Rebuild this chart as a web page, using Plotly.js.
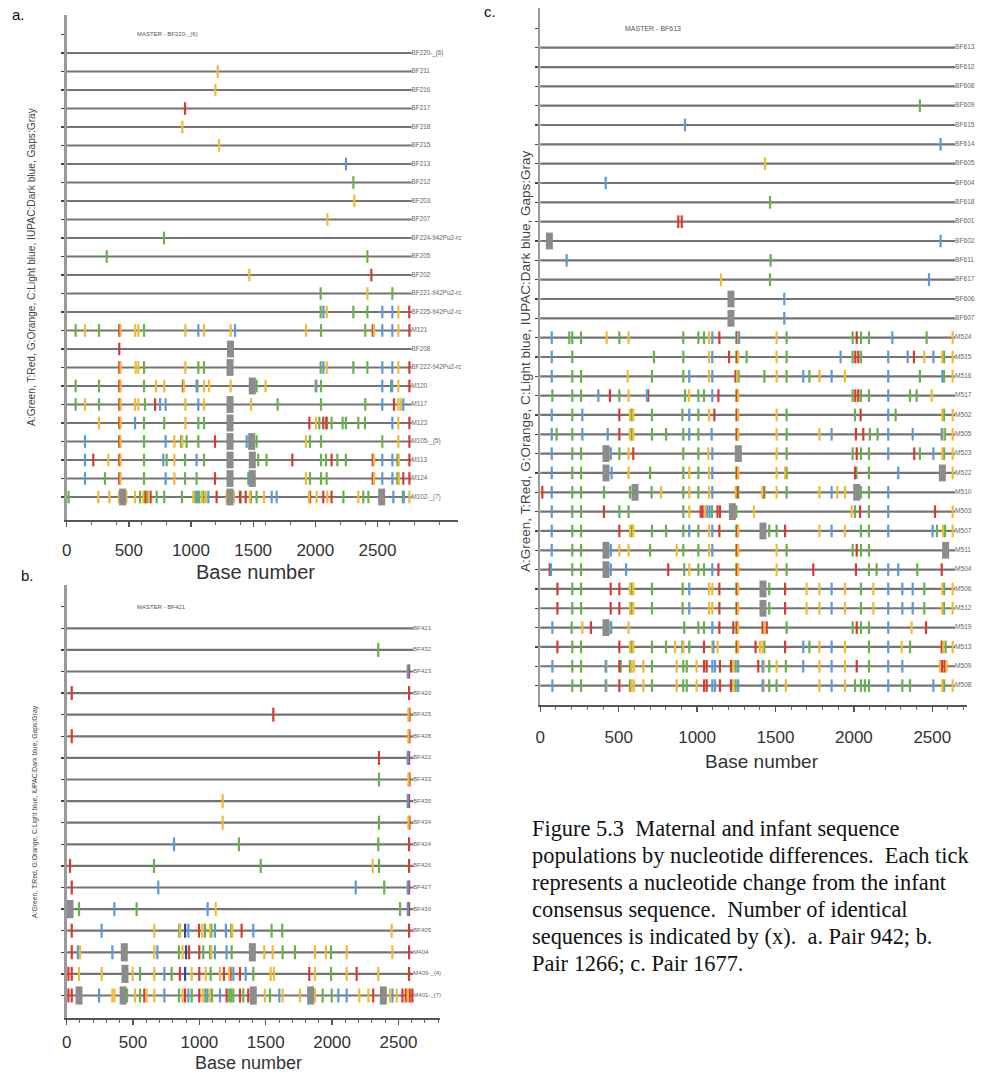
<!DOCTYPE html>
<html><head><meta charset="utf-8">
<script src="https://cdn.plot.ly/plotly-3.0.1.min.js"></script>
<style>html,body{margin:0;padding:0;background:#fff}#chart{width:997px;height:1078px}</style>
</head><body><div id="chart"></div>
<script>
// ---------- DATA ----------
// Mutation codes: A,T,G,C = base change, N = IUPAC ambiguity, X = gap; number = base position
const labelsA = ["BF220-_(6)","BF211","BF216","BF217","BF218","BF215","BF213","BF212","BF203","BF207","BF224-942Pu2-rc","BF205","BF202","BF221-942Pu2-rc","BF225-942Pu2-rc","M121","BF208","BF222-942Pu2-rc","M120","M117","M123","M105-_(5)","M113","M124","M102-_(7)"];
const mutsA = [
 "",
 "G1215",
 "G1196",
 "T952",
 "G930",
 "G1225",
 "C2247",
 "A2306",
 "G2314",
 "G2097",
 "A783",
 "A322 A2419",
 "G1469 T2451",
 "A2043 G2419 A2620",
 "A2043 C2065 G2092 A2306 A2419 C2539 C2620 G2668 T2756",
 "A72 G147 A260 T423 G433 G550 G577 A622 G955 C1059 G1105 G1319 C1354 G1925 A2046 A2402 T2462 G2472 C2539 C2620 G2668 T2757",
 "T423 X1318 A1327",
 "T423 G433 G555 G577 A622 G955 A1059 A1105 X1314 A1322 A2043 C2065 G2092 A2306 A2419 C2539 C2620 G2668 T2757",
 "A72 A260 T423 G433 A622 G718 G785 T935 G942 C1045 A1052 G1105 G1145 G1319 X1493 A1500 A1528 G1600 G2000 C2008 A2046 C2539 A2610 C2618 G2668 T2757",
 "A72 G147 A260 T423 G433 G550 G577 A630 T711 C751 C796 G955 C1059 G1105 X1314 A1322 G1483 A1697 A2046 A2402 C2539 T2633 G2668 G2687 C2708",
 "G260 T423 G433 C550 A622 A785 G955 A1059 A1105 X1314 A1322 T1952 G2005 A2032 T2064 T2088 A2095 A2131 A2220 A2246 A2346 A2400 C2620 G2668 T2757",
 "C147 T423 G433 A622 C796 G866 A920 G930 A965 A1059 T1193 T1305 X1314 A1325 C1448 X1488 A1528 G1925 A1957 A2046 A2539 G2668 T2757",
 "C147 T214 G335 T423 G433 A622 C777 A804 G866 A952 C1045 A1105 X1314 A1322 X1493 A1500 A1541 A1608 T1815 A2046 A2086 T2131 A2177 A2246 T2462 G2472 C2539 C2620 A2660 G2672 T2757",
 "C147 A308 T423 G433 A622 C796 G866 A952 A1045 T1193 T1306 X1314 A1461 C1470 X1493 A1500 G1925 A1957 A2046 A2091 T2462 G2472 C2539 C2620 A2660 G2672 T2708 T2757",
 "A15 G254 G343 G420 A430 T440 X450 A460 T470 G480 G550 A590 G617 T630 A645 G660 T675 A724 A785 A927 G1019 A1035 C1050 A1065 G1085 A1100 G1120 C1140 T1206 G1287 X1314 T1330 G1345 T1394 A1400 T1440 G1474 A1482 A1528 G1587 C1649 C1689 G1950 T1958 G2011 T2064 G2096 T2131 A2226 G2346 A2386 A2427 X2534 C2628 A2704 C2712 G2757"
];
const labelsB = ["BF421","BF432","BF423","BF420","BF425","BF428","BF422","BF433","BF435","BF434","BF424","BF426","BF427","BF430","BF405","M404","M409-_(4)","M401-_(7)"];
const mutsB = [
 "",
 "A2348",
 "C2570 T2580",
 "T38 T2580",
 "T1557 G2575 T2583",
 "T38 G2575 T2583",
 "T2353 C2570 T2580",
 "A2353 G2575 T2583",
 "G1175 C2570 T2580",
 "G1175 A2353 G2575 T2583",
 "C809 A1298 A2348 T2580",
 "T25 A658 A1462 G2306 A2353 T2580",
 "T38 C690 C2178 A2393 C2570 T2580",
 "X25 A93 C359 A527 C1062 G1123 A2512 C2570 T2580",
 "T38 C263 G660 A848 G855 N892 C917 T997 G1022 A1042 G1080 A1090 C1117 C1200 A1240 G1248 T1318 C1406 A1544 A1624 G2449 T2580",
 "T38 C84 G100 C344 X434 G440 G660 C683 A846 G873 N899 T922 T999 A1029 A1080 G1090 C1117 C1205 A1243 X1399 A1405 G1489 G1552 A1627 A1720 G1871 G1954 A1992 G2110 G2454 T2580",
 "T13 T38 G93 G264 X439 G445 G497 A553 G660 C736 A791 T853 N892 G942 T999 G1048 A1085 G1155 T1185 G1225 T1235 C1256 T1306 C1349 A1406 G1537 G1562 T1828 G1871 A1992 G2110 T2185 G2348 T2580",
 "T13 T38 X93 A98 C244 G344 G360 T420 X425 G440 A455 G515 A553 T585 G602 G660 C736 A846 G873 T892 C917 A942 T999 G1025 A1045 C1060 G1080 A1095 C1155 T1205 A1225 A1240 A1256 T1306 A1331 T1368 X1406 A1410 G1494 A1532 C1602 G1627 G1758 X1838 G1845 G1871 A1929 A1997 C2047 C2110 G2205 G2273 T2310 X2386 G2436 C2455 G2487 T2530 T2555 G2570 T2585 T2605"
];
const labelsC = ["BF613","BF612","BF608","BF609","BF615","BF614","BF605","BF604","BF618","BF601","BF602","BF611","BF617","BF606","BF607","M524","M515","M516","M517","M502","M505","M523","M522","M510","M503","M507","M511","M504","M506","M512","M519","M513","M509","M508"];
const mutsC = [
 "", "", "",
 "A2421",
 "C923",
 "C2553",
 "G1433",
 "C417",
 "A1465",
 "T880 T902",
 "X58 C2553",
 "C168 A1469",
 "G1152 A1465 C2479",
 "X1216 C1556",
 "X1216 C1556",
 "C73 A185 A204 A260 G423 A504 G563 A912 A1008 A1044 G1076 C1097 T1142 A1250 T1256 G1262 C1268 G1507 A1571 A1992 T2018 A2045 A2096 C2245 A2464 G2630",
 "C73 A204 A725 A912 G1076 C1097 T1204 A1250 T1256 G1262 A1316 G1507 A1571 C1915 A1992 T2009 T2028 A2045 C2219 C2343 T2383 G2449 C2507 G2564 A2575 G2630",
 "C73 A204 A260 G557 A712 A912 C950 G1076 C1097 T1245 G1256 A1265 A1429 G1507 A1571 C1677 A1716 G1780 C1858 G1943 C2219 A2421 C2564 A2575 G2630",
 "A77 A204 A260 C370 T444 A504 G563 C680 T688 A923 G948 A1008 A1044 C1097 T1136 A1250 T1256 G1262 A1992 T2009 T2028 A2045 A2096 C2219 A2358 A2400 G2496",
 "C73 A204 C268 T504 G572 A582 G593 A712 A906 C950 A1008 G1076 T1110 A1250 T1256 G1262 G1507 A1571 A2007 T2043 C2219 A2266 G2564 A2575 G2630",
 "C73 A104 A204 C268 C430 T504 G572 A582 G593 A712 A802 A912 C950 A1008 C1093 A1250 T1256 G1262 G1507 A1571 G1780 C1858 T2013 T2060 A2102 A2151 C2219 C2375 C2560 G2570 A2581 G2630",
 "C73 A204 A260 X419 G444 C450 A504 G563 T593 A912 A1008 G1072 C1097 X1263 G1507 A1571 A1992 T2018 A2045 A2096 C2219 T2385 A2421 C2507 G2564 A2575 G2630",
 "C73 A204 A260 X419 C455 G563 A700 A912 G950 A1008 G1076 C1097 A1250 T1256 G1262 G1507 G1561 A1571 T2007 A2016 A2096 C2283 X2564 C2575 G2630",
 "T13 C73 A204 A260 A406 A572 X604 G610 A710 G770 A912 G950 A1008 G1076 C1097 G1246 T1255 A1263 G1416 T1422 A1429 G1507 A1571 G1780 C1858 G1894 G1943 X2018 A2045 A2096 C2219",
 "C73 A204 A260 T406 A504 A563 A912 G950 T1023 T1035 G1050 C1065 C1080 A1095 T1130 T1146 X1225 G1240 A1250 G1363 G1986 A2007 T2039 A2096 C2219 T2517 G2630",
 "C73 A204 A260 T504 G572 A582 G593 A712 A802 A912 C950 A1008 G1076 C1097 T1142 A1250 T1256 G1262 X1420 G1425 A1460 A1507 T1561 G1780 C1858 G1943 A2045 A2096 C2219 C2502 A2530 G2568 A2581 G2630",
 "C73 A204 A260 X419 C450 G504 G563 A700 G870 A912 A1008 G1076 C1097 A1250 T1256 G1262 G1507 A1571 A1992 T2018 A2045 A2096 X2585",
 "T60 C68 A204 A260 X419 C450 C547 T816 A918 G950 A1008 A1044 C1097 T1136 A1250 T1256 G1262 G1507 A1571 T1741 T2013 A2096 A2145 C2219 C2283 A2404 T2560",
 "T109 A204 A260 T449 T504 G572 A582 G593 A712 A908 C950 G1076 G1097 T1142 A1250 T1256 G1262 X1420 G1425 A1460 T1561 G1698 G1780 C1858 G1943 A2045 G2124 C2219 C2309 C2375 A2449 G2564 A2575 G2630",
 "T109 A204 A260 T449 T504 G572 A582 G593 A712 A908 C950 G1076 G1097 T1142 A1250 T1256 G1262 X1420 G1425 A1460 T1561 G1698 G1780 C1858 G1943 A2045 G2124 C2219 C2309 C2375 A2449 G2564 A2575 G2630",
 "C77 A200 G268 T323 X419 G445 C452 G563 A918 A1008 A1044 C1097 T1142 T1231 A1250 T1256 G1262 T1418 G1430 T1444 A1571 A1992 T2018 A2045 A2096 C2219 G2368 T2460",
 "T109 A204 A260 T504 G572 A582 G593 A712 A802 G859 A906 G912 A950 T1044 G1097 C1104 G1131 A1250 T1256 G1262 T1373 G1400 G1418 A1429 T1561 C1677 A1716 G1780 C1858 G1943 A2096 C2219 G2305 A2358 T2560 G2570 A2585 G2630",
 "C77 A204 A260 C417 G422 T504 A513 A572 G582 G597 G657 A712 G870 A912 A934 G997 T1044 T1061 C1097 C1114 T1146 T1216 G1230 A1246 C1262 T1390 C1418 G1425 A1460 G1507 A1566 C1677 G1780 C1858 G1943 T2018 A2096 C2219 C2309 G2549 T2562 T2578 G2591",
 "C77 A204 A260 C417 G422 T504 A572 G582 G597 G657 A712 G870 A912 A934 G997 T1044 T1061 C1097 C1114 T1146 T1216 G1230 A1246 C1262 C1418 G1425 A1460 A1507 G1566 G1780 C1858 G1943 A2007 A2045 A2070 A2096 C2219 A2309 A2358 C2507 G2564 A2575 G2630"
];
const masters = ["MASTER - BF220-_(6)", "MASTER - BF421", "MASTER - BF613"];
const lineEnds = [2775, 2612, 2645];
const xTicks = [0, 500, 1000, 1500, 2000, 2500];
const baseTypes = ["A","T","G","C","N","X"];
const baseColors = {A:"#66b34c", T:"#d93a2f", G:"#f0bb35", C:"#5b9bd5", N:"#2c4a9a", X:"#8c8c8c"};
const legendText = "A:Green, T:Red, G:Orange, C:Light blue, IUPAC:Dark blue, Gaps:Gray";
const caption = ["Figure 5.3  Maternal and infant sequence",
 "populations by nucleotide differences.  Each tick",
 "represents a nucleotide change from the infant",
 "consensus sequence.  Number of identical",
 "sequences is indicated by (x).  a. Pair 942; b.",
 "Pair 1266; c. Pair 1677."];

// ---------- LAYOUT HELPERS ----------
const W = 997, H = 1078;
const px = x => x / W, py = y => 1 - y / H;
const SANS = "Liberation Sans, Arial, sans-serif";

const panels = [
 {labels: labelsA, muts: mutsA, xa: "x", ya: "y", xd: [66.7, 458], scale: 0.1243, yTop: 15, yBot: 520, row0: 53, step: 18.5, lab: 6.3, tickSize: 9, standoff: 9, minor: 200},
 {labels: labelsB, muts: mutsB, xa: "x2", ya: "y2", xd: [66.7, 440], scale: 0.1327, yTop: 585, yBot: 1018, row0: 628.3, step: 21.6, lab: 6.0, tickSize: 10, standoff: 3, minor: 100},
 {labels: labelsC, muts: mutsC, xa: "x3", ya: "y3", xd: [540.3, 967], scale: 0.1568, yTop: 8, yBot: 705, row0: 47.7, step: 19.33, lab: 6.6, tickSize: 9, standoff: 11, minor: 100}
];

const traces = [];
const layout = {
 width: W, height: H, margin: {l:0, r:0, t:0, b:0},
 paper_bgcolor: "#fff", plot_bgcolor: "rgba(0,0,0,0)",
 showlegend: false, font: {family: SANS, color: "#333"},
 annotations: []
};

panels.forEach((p, k) => {
 const n = p.labels.length;
 const lx = [], ly = [];
 for (let i = 0; i < n; i++) { lx.push(-15, lineEnds[k], null); ly.push(i, i, null); }
 traces.push({type: "scatter", mode: "lines", x: lx, y: ly, xaxis: p.xa, yaxis: p.ya,
   line: {color: "#747474", width: 2.2}, hoverinfo: "skip", cliponaxis: false});
 baseTypes.forEach(t => {
   const mx = [], my = [];
   p.muts.forEach((s, i) => {
     s.split(" ").filter(Boolean).forEach(tok => {
       if (tok[0] === t) { mx.push(+tok.slice(1)); my.push(i); }
     });
   });
   if (!mx.length) return;
   const gap = t === "X";
   traces.push({type: "scatter", mode: "markers", x: mx, y: my, xaxis: p.xa, yaxis: p.ya,
     cliponaxis: false, hoverinfo: "x",
     marker: {symbol: "line-ns", size: gap ? p.tickSize + 3 : p.tickSize,
       line: {color: baseColors[t], width: gap ? 7 : 2.2}}});
 });
 traces.push({type: "scatter", mode: "text", x: p.labels.map(() => lineEnds[k]), y: p.labels.map((_, i) => i),
   text: p.labels, textposition: "middle right", xaxis: p.xa, yaxis: p.ya, cliponaxis: false,
   textfont: {size: p.lab, color: "#666", family: SANS}, hoverinfo: "skip"});

 const xmax = (p.xd[1] - p.xd[0]) / p.scale;
 const yTopV = (p.yTop - p.row0) / p.step, yBotV = (p.yBot - p.row0) / p.step;
 const suf = k === 0 ? "" : String(k + 1);
 layout["xaxis" + suf] = {
   domain: [px(p.xd[0]), px(p.xd[1])], range: [0, xmax], anchor: p.ya,
   showgrid: false, zeroline: false, showline: true, linecolor: "#555", linewidth: 1.5,
   tickvals: xTicks, ticktext: xTicks.map(String), ticks: "outside", ticklen: 5, tickcolor: "#555", tickwidth: 1.3,
   minor: {dtick: p.minor, tick0: 0, ticks: "outside", ticklen: 3, tickcolor: "#666", tickwidth: 1},
   tickfont: {size: 17, color: "#333", family: SANS}, ticklabelstandoff: p.standoff, fixedrange: true
 };
 const yt = [-1]; for (let i = 0; i < n; i++) yt.push(i);
 layout["yaxis" + suf] = {
   domain: [py(p.yBot), py(p.yTop)], range: [yBotV, yTopV], anchor: p.xa,
   showgrid: false, zeroline: false, showline: true, linecolor: "#9a9a9a", linewidth: 2.5,
   tickvals: yt, showticklabels: false, ticks: "outside", ticklen: 3, tickcolor: "#444", tickwidth: 1.3,
   fixedrange: true
 };
 layout.annotations.push({xref: p.xa, yref: p.ya, x: (k === 0 ? 807 : 718), y: -1, text: masters[k],
   xanchor: "center", yanchor: "middle",
   showarrow: false, font: {size: k === 2 ? 7 : 6, color: "#555", family: SANS}});
});

const ann = (o) => layout.annotations.push(Object.assign({xref: "paper", yref: "paper", showarrow: false,
  xanchor: "center", yanchor: "middle"}, o));
[["a.", 18, 15], ["b.", 27, 575], ["c.", 490, 12]].forEach(([t, x, y]) =>
 ann({x: px(x), y: py(y), text: t, font: {size: 15, color: "#111", family: SANS}}));
[[255, 572, 20], [248, 1063, 18], [762, 761, 19]].forEach(([x, y, s]) =>
 ann({x: px(x), y: py(y), text: "Base number", font: {size: s, color: "#333", family: SANS}}));
[[31, 267, 10.2], [35, 812, 6.8], [526, 362, 13.5]].forEach(([x, y, s]) =>
 ann({x: px(x), y: py(y), text: legendText, textangle: -90, font: {size: s, color: "#444", family: SANS}}));
caption.forEach((t, i) =>
 ann({x: px(530), y: py(828 + i * 27), xanchor: "left", text: t,
   font: {size: 22.4, color: "#111", family: "Liberation Serif, Times New Roman, serif"}}));

Plotly.newPlot("chart", traces, layout, {staticPlot: true, displayModeBar: false});
</script>
</body></html>
